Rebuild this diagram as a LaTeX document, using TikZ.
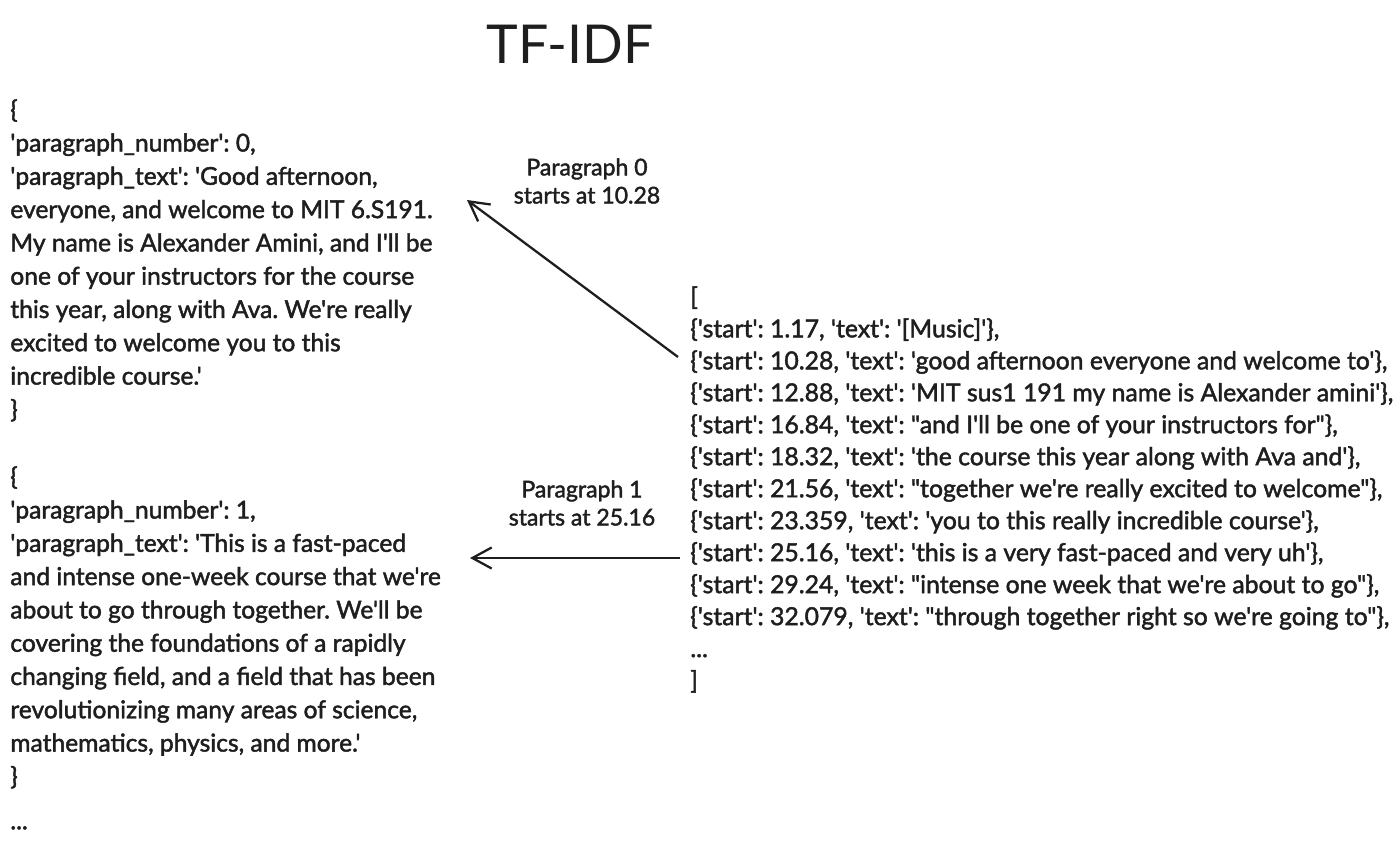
\documentclass[tikz,border=0pt]{standalone}
\usepackage{fontspec}
\usepackage{xcolor}
\newfontfamily\sketchfont{Lato}[FakeBold=1.8]
\newfontfamily\titlefont{Lato}
\usetikzlibrary{positioning,arrows.meta}
\definecolor{ink}{HTML}{1E1E1E}
\frenchspacing

\begin{document}
\begin{tikzpicture}[
    x=0.02cm, y=-0.02cm,
    node distance=1cm,
    every node/.style={text=ink},
    jsonblock/.style={
        inner sep=0pt,
        anchor=north west,
        align=left,
        font=\sketchfont\fontsize{14}{18.95}\selectfont
    },
    listblock/.style={
        jsonblock,
        font=\sketchfont\fontsize{14.1}{18.2}\selectfont
    },
    caption/.style={
        inner sep=0pt,
        align=center,
        font=\sketchfont\fontsize{13.1}{16}\selectfont
    },
    arrow/.style={-{Straight Barb[length=11pt,width=12pt]}, line width=1.3pt, draw=ink}
]

\fill[white] (0,0) rectangle (1400,858);
\useasboundingbox (0,0) rectangle (1400,858);

\node[font=\titlefont\fontsize{30.5}{36}\selectfont] (title) at (570,44) {TF-IDF};

% paragraphs on the left
\node[jsonblock] (para0) at (10,99) {
\{\\
'paragraph\_number': 0,\\
'paragraph\_text': 'Good afternoon,\\
everyone, and welcome to MIT 6.S191.\\
My name is Alexander Amini, and I'll be\\
one of your instructors for the course\\
this year, along with Ava. We're really\\
excited to welcome you to this\\
incredible course.'\\
\}
};

\node[jsonblock] (para1) at (10,466) {
\{\\
'paragraph\_number': 1,\\
'paragraph\_text': 'This is a fast-paced\\
and intense one-week course that we're\\
about to go through together. We'll be\\
covering the foundations of a rapidly\\
changing field, and a field that has been\\
revolutionizing many areas of science,\\
mathematics, physics, and more.'\\
\}
};

\node[jsonblock] (more) at (10,826) {...};

% transcript segments on the right
\node[listblock] (segments) at (690,286) {
[\\
\{'start': 1.17, 'text': '[Music]'\},\\
\{'start': 10.28, 'text': 'good afternoon everyone and welcome to'\},\\
\{'start': 12.88, 'text': 'MIT sus1 191 my name is Alexander amini'\},\\
\{'start': 16.84, 'text': "and I'll be one of your instructors for"\},\\
\{'start': 18.32, 'text': 'the course this year along with Ava and'\},\\
\{'start': 21.56, 'text': "together we're really excited to welcome"\},\\
\{'start': 23.359, 'text': 'you to this really incredible course'\},\\
\{'start': 25.16, 'text': 'this is a very fast-paced and very uh'\},\\
\{'start': 29.24, 'text': "intense one week that we're about to go"\},\\
\{'start': 32.079, 'text': "through together right so we're going to"\},\\
...\\
]
};

\node[caption] (cap0) at (587,181) {Paragraph 0\\starts at 10.28};
\node[caption] (cap1) at (582,503) {Paragraph 1\\starts at 25.16};

\coordinate (src0) at (678,357);
\coordinate (dst0) at (467,200);
\coordinate (src1) at (680,558);
\coordinate (dst1) at (470,558);

\draw[arrow] (src0) -- (dst0);
\draw[arrow] (src1) -- (dst1);

\end{tikzpicture}
\end{document}
